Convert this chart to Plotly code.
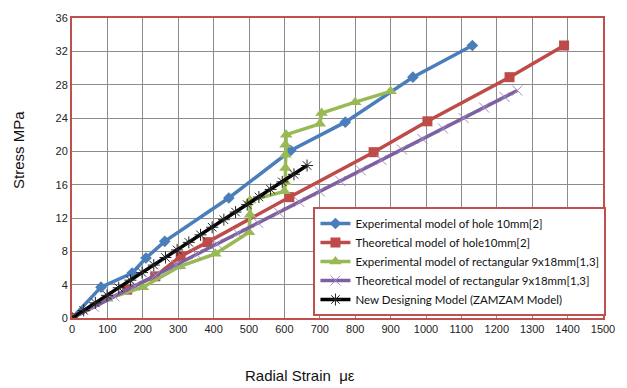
import plotly.graph_objects as go

# Experimental model of hole 10mm[2]
exp_hole_x = [0, 82, 170, 209, 262, 443, 618, 772, 963, 1131]
exp_hole_y = [0, 3.7, 5.4, 7.2, 9.2, 14.4, 20.1, 23.5, 28.9, 32.7]

# Theoretical model of hole10mm[2]
th_hole_x = [0, 156, 235, 307, 383, 614, 852, 1004, 1236, 1390]
th_hole_y = [0, 3.4, 5.0, 7.4, 9.1, 14.5, 19.9, 23.6, 28.9, 32.7]

# Experimental model of rectangular 9x18mm[1,3]
exp_rect_x = [0, 100, 200, 305, 405, 500, 503, 503, 600, 603, 603, 603, 603, 605, 700, 705, 800, 900]
exp_rect_y = [0, 2.3, 3.7, 6.2, 7.7, 10.3, 12.4, 14.1, 15.2, 16.3, 18.0, 19.6, 20.8, 22.0, 23.3, 24.6, 25.9, 27.2]

# Theoretical model of rectangular 9x18mm[1,3]
th_rect_x = [0, 62, 120, 178, 236, 294, 352, 410, 468, 526, 584, 642, 700, 758, 816, 874,
             932, 990, 1048, 1106, 1164, 1222, 1258]
th_rect_y = [0, 1.35, 2.6, 3.86, 5.12, 6.38, 7.64, 8.9, 10.16, 11.41, 12.67, 13.93, 15.19,
             16.45, 17.71, 18.97, 20.22, 21.48, 22.74, 24.0, 25.26, 26.52, 27.3]

# New Designing Model (ZAMZAM Model)
zam_x = [0, 33, 66, 99, 132, 165, 198, 231, 264, 297, 330, 363, 396, 429, 462, 495,
         528, 561, 594, 627, 664]
zam_y = [0, 0.91, 1.82, 2.72, 3.63, 4.54, 5.45, 6.35, 7.26, 8.17, 9.08, 9.98, 10.89,
         11.8, 12.71, 13.61, 14.52, 15.43, 16.34, 17.24, 18.3]

x_ticks = list(range(0, 1501, 100))
y_ticks = list(range(0, 37, 4))

names = [
    "Experimental model of hole 10mm[2]",
    "Theoretical model of hole10mm[2]",
    "Experimental model of rectangular 9x18mm[1,3]",
    "Theoretical model of rectangular 9x18mm[1,3]",
    "New Designing Model (ZAMZAM Model)",
]

BLUE = "#4a7ebb"
RED = "#be4b48"
GREEN = "#98b954"
PURPLE = "#7d60a0"
RED_BORDER = "#c0504d"

fig = go.Figure()
fig.add_trace(go.Scatter(x=exp_hole_x, y=exp_hole_y, name=names[0], mode="lines+markers",
                         line=dict(color=BLUE, width=3.5),
                         marker=dict(symbol="diamond", size=9, color=BLUE)))
fig.add_trace(go.Scatter(x=th_hole_x, y=th_hole_y, name=names[1], mode="lines+markers",
                         line=dict(color=RED, width=3.5),
                         marker=dict(symbol="square", size=10, color=RED)))
fig.add_trace(go.Scatter(x=exp_rect_x, y=exp_rect_y, name=names[2], mode="lines+markers",
                         line=dict(color=GREEN, width=3.5),
                         marker=dict(symbol="triangle-up", size=11, color=GREEN)))
fig.add_trace(go.Scatter(x=th_rect_x, y=th_rect_y, name=names[3], mode="lines+markers",
                         line=dict(color=PURPLE, width=3.5),
                         marker=dict(symbol="x-thin-open", size=10, color="#a08cc0",
                                     line=dict(width=1, color="#a08cc0"))))
fig.add_trace(go.Scatter(x=zam_x, y=zam_y, name=names[4], mode="lines+markers",
                         line=dict(color="black", width=3.5),
                         marker=dict(symbol="asterisk-open", size=10, color="#222222",
                                     line=dict(width=1, color="#222222"))))

axis_font = dict(family="Liberation Sans, Arial, sans-serif", size=11, color="#222222")

fig.update_layout(
    width=627, height=388,
    margin=dict(l=72, r=14, t=17, b=70),
    paper_bgcolor="white",
    plot_bgcolor="white",
    showlegend=True,
    legend=dict(
        x=0.4547, y=0.37, xanchor="left", yanchor="top",
        bgcolor="white", bordercolor=RED_BORDER, borderwidth=2,
        font=dict(family="Lato, sans-serif", size=11.5, color="#111111"),
        itemwidth=30,
        tracegroupgap=0,
    ),
    xaxis=dict(
        range=[0, 1500], tickvals=x_ticks, ticktext=[str(v) for v in x_ticks],
        showgrid=True, gridcolor="#8c8c8c", gridwidth=1,
        zeroline=False, showline=True, linecolor=RED_BORDER, linewidth=2, mirror=True,
        ticks="", tickfont=axis_font,
    ),
    yaxis=dict(
        range=[0, 36], tickvals=y_ticks, ticktext=[str(v) for v in y_ticks],
        showgrid=True, gridcolor="#8c8c8c", gridwidth=1,
        zeroline=False, showline=True, linecolor=RED_BORDER, linewidth=2, mirror=True,
        ticks="", tickfont=axis_font,
    ),
    annotations=[
        dict(text="Stress MPa", xref="paper", yref="paper", x=-0.1, y=0.56,
             xanchor="center", yanchor="middle", textangle=-90, showarrow=False,
             font=dict(family="Liberation Sans, Arial, sans-serif", size=15, color="#111111")),
        dict(text="Radial Strain  με", xref="paper", yref="paper", x=0.43, y=-0.19,
             xanchor="center", yanchor="middle", showarrow=False,
             font=dict(family="Liberation Sans, Arial, sans-serif", size=15, color="#111111")),
    ],
)

fig.write_html("out.html")
